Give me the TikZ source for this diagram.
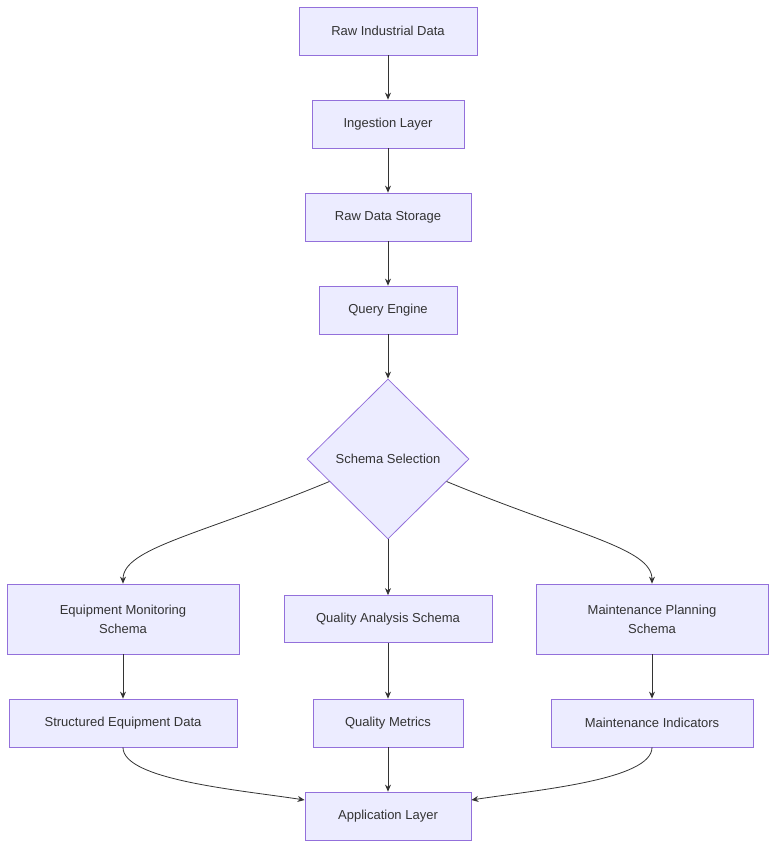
\documentclass[tikz,border=0pt]{standalone}
\usepackage{fontspec}
\setmainfont{Liberation Sans}
\usetikzlibrary{shapes.geometric,arrows.meta,calc}
\definecolor{nfill}{HTML}{ECECFF}
\definecolor{nborder}{HTML}{9370DB}
\definecolor{ink}{HTML}{333333}
\begin{document}
\begin{tikzpicture}[x=1pt,y=-1pt,
  box/.style={draw=nborder,fill=nfill,line width=0.8pt,text=ink,font=\fontsize{13}{19}\selectfont,align=center,inner sep=0pt},
  arr/.style={draw=ink,line width=0.8pt,-{Stealth[length=7pt,width=6pt]}}]
\useasboundingbox (0,0) rectangle (784,857);
\node[box,minimum width=178,minimum height=48] (a) at (388,31) {Raw Industrial Data};
\node[box,minimum width=152,minimum height=48] (b) at (388,124) {Ingestion Layer};
\node[box,minimum width=166,minimum height=48] (c) at (388,217) {Raw Data Storage};
\node[box,minimum width=138,minimum height=48] (q) at (388,310) {Query Engine};
\node[box,diamond,minimum width=162,minimum height=160] (d) at (388,459) {Schema Selection};
\node[box,minimum width=232,minimum height=70] (e1) at (123,619) {Equipment Monitoring\\Schema};
\node[box,minimum width=208,minimum height=47] (e2) at (388,619) {Quality Analysis Schema};
\node[box,minimum width=232,minimum height=70] (e3) at (652,619) {Maintenance Planning\\Schema};
\node[box,minimum width=228,minimum height=48] (s1) at (123,723) {Structured Equipment Data};
\node[box,minimum width=150,minimum height=48] (s2) at (388,723) {Quality Metrics};
\node[box,minimum width=202,minimum height=48] (s3) at (652,723) {Maintenance Indicators};
\node[box,minimum width=166,minimum height=48] (app) at (388,816) {Application Layer};
\draw[arr] (a) -- (b);
\draw[arr] (b) -- (c);
\draw[arr] (c) -- (q);
\draw[arr] (q) -- (d);
\coordinate (dl) at ($(d.west)!0.28!(d.south)$);
\coordinate (dr) at ($(d.east)!0.28!(d.south)$);
\draw[arr] (dl) .. controls (200,535) and (123,548) .. (e1.north);
\draw[arr] (d.south) -- (e2.north);
\draw[arr] (dr) .. controls (576,535) and (652,548) .. (e3.north);
\draw[arr] (e1) -- (s1);
\draw[arr] (e2) -- (s2);
\draw[arr] (e3) -- (s3);
\coordinate (al) at ($(app.west)+(0,-16)$);
\coordinate (ar) at ($(app.east)+(0,-16)$);
\draw[arr] (s1.south) .. controls (123,780) and (240,790) .. (al);
\draw[arr] (s2) -- (app);
\draw[arr] (s3.south) .. controls (652,780) and (536,790) .. (ar);
\end{tikzpicture}
\end{document}
